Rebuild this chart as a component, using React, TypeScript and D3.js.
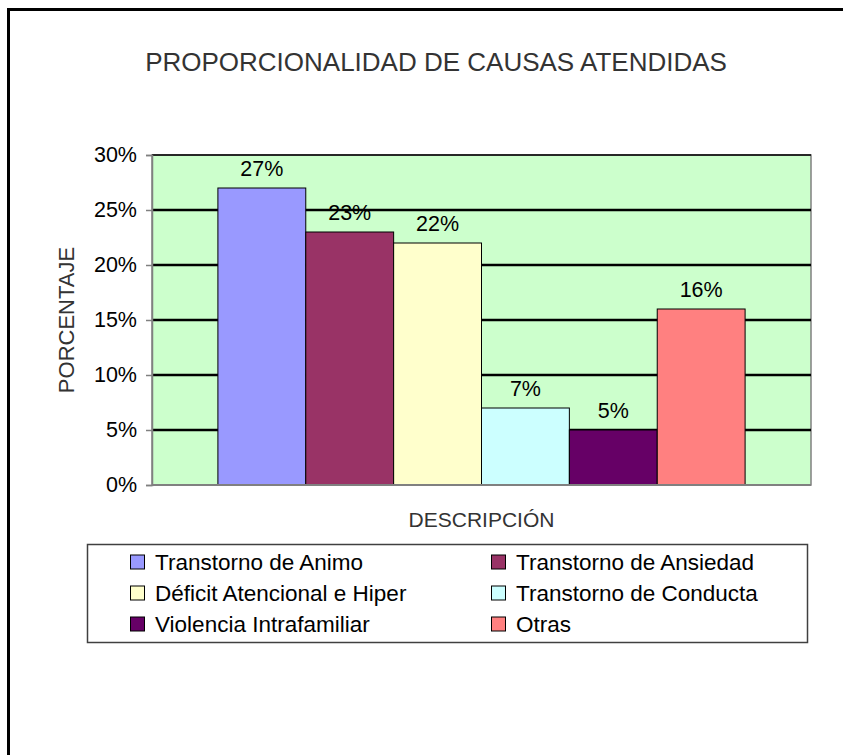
import React, { useEffect, useRef } from 'react'
import * as d3 from 'd3'

const series = [
  'Transtorno de Animo',
  'Transtorno de Ansiedad',
  'Déficit Atencional e Hiper',
  'Transtorno de Conducta',
  'Violencia Intrafamiliar',
  'Otras',
]
const values = [0.27, 0.23, 0.22, 0.07, 0.05, 0.16]
const colors = ['#9999FF', '#993366', '#FFFFCC', '#CCFFFF', '#660066', '#FF8080']
const yTicks = [0, 0.05, 0.1, 0.15, 0.2, 0.25, 0.3]

const title = 'PROPORCIONALIDAD DE CAUSAS ATENDIDAS'
const xTitle = 'DESCRIPCIÓN'
const yTitle = 'PORCENTAJE'

function App() {
  const ref = useRef<SVGSVGElement>(null)

  useEffect(() => {
    document.body.style.margin = '0'
    const svg = d3.select(ref.current)
    svg.selectAll('*').remove()

    const left = 152, right = 811, top = 155, bottom = 485
    const font = 'Liberation Sans, Arial, sans-serif'

    // outer frame (runs off the page at right / bottom)
    svg.append('rect')
      .attr('x', 8.5).attr('y', 9.5)
      .attr('width', 900).attr('height', 800)
      .attr('fill', '#fff')
      .attr('stroke', '#000')
      .attr('stroke-width', 3)

    svg.append('text')
      .attr('x', 436).attr('y', 71)
      .attr('text-anchor', 'middle')
      .style('font-family', font)
      .style('font-size', '26px')
      .attr('fill', '#333')
      .text(title)

    const y = d3.scaleLinear().domain([0, 0.3]).range([bottom, top])

    // gap width 150% of a bar on the whole category
    const bw = (right - left) / (series.length + 1.5)
    const x = d3.scaleBand()
      .domain(series)
      .range([left + bw * 0.75, right - bw * 0.75])
      .padding(0)

    svg.append('rect')
      .attr('x', left).attr('y', top)
      .attr('width', right - left).attr('height', bottom - top)
      .attr('fill', '#CCFFCC')
      .attr('stroke', '#808080')
      .attr('stroke-width', 1.5)

    svg.append('g')
      .selectAll('line')
      .data(yTicks.slice(1))
      .enter()
      .append('line')
      .attr('x1', left).attr('x2', right)
      .attr('y1', d => y(d)).attr('y2', d => y(d))
      .attr('stroke', '#000')
      .attr('stroke-width', d => (d === 0.3 ? 1.5 : 2.5))

    const axisL = d3.axisLeft(y)
      .tickValues(yTicks)
      .tickSize(6)
      .tickPadding(9)
      .tickFormat(d3.format('.0%'))

    const ga = svg.append('g')
      .attr('transform', 'translate(' + left + ',0)')
      .call(axisL)
    ga.select('.domain').attr('stroke', '#808080').attr('stroke-width', 1.5)
    ga.selectAll('.tick line').attr('stroke', '#808080').attr('stroke-width', 1.5)
    ga.selectAll('.tick text')
      .style('font-family', font)
      .style('font-size', '21.5px')
      .attr('fill', '#000')

    svg.append('g')
      .selectAll('rect')
      .data(values)
      .enter()
      .append('rect')
      .attr('x', (d, i) => x(series[i]) as number)
      .attr('y', d => y(d))
      .attr('width', x.bandwidth())
      .attr('height', d => bottom - y(d))
      .attr('fill', (d, i) => colors[i])
      .attr('stroke', '#000')
      .attr('stroke-width', 1)

    svg.append('g')
      .selectAll('text')
      .data(values)
      .enter()
      .append('text')
      .attr('x', (d, i) => (x(series[i]) as number) + x.bandwidth() / 2)
      .attr('y', d => y(d) - 12)
      .attr('text-anchor', 'middle')
      .style('font-family', font)
      .style('font-size', '21.5px')
      .text(d => d3.format('.0%')(d))

    svg.append('line')
      .attr('x1', left).attr('x2', right)
      .attr('y1', bottom).attr('y2', bottom)
      .attr('stroke', '#808080').attr('stroke-width', 2)

    svg.append('text')
      .attr('x', (left + right) / 2).attr('y', 527)
      .attr('text-anchor', 'middle')
      .style('font-family', font)
      .style('font-size', '21px')
      .attr('fill', '#333')
      .text(xTitle)

    svg.append('text')
      .attr('transform', 'translate(74,' + (top + bottom) / 2 + ') rotate(-90)')
      .attr('text-anchor', 'middle')
      .style('font-family', font)
      .style('font-size', '22px')
      .attr('fill', '#333')
      .text(yTitle)

    // legend
    const lg = svg.append('g')
    lg.append('rect')
      .attr('x', 87.5).attr('y', 544.5)
      .attr('width', 720).attr('height', 98)
      .attr('fill', '#fff')
      .attr('stroke', '#404040')
      .attr('stroke-width', 1.5)

    const colX = [130, 491]
    const rowY = [562, 593, 624]
    const items = lg.selectAll('g.item')
      .data(series)
      .enter()
      .append('g')
      .attr('class', 'item')
      .attr('transform', (d, i) => 'translate(' + colX[i % 2] + ',' + rowY[Math.floor(i / 2)] + ')')
    items.append('rect')
      .attr('x', 0.5).attr('y', -7)
      .attr('width', 14).attr('height', 14)
      .attr('fill', (d, i) => colors[i])
      .attr('stroke', '#000')
      .attr('stroke-width', 1)
    items.append('text')
      .attr('x', 25).attr('y', 8)
      .style('font-family', font)
      .style('font-size', '22.5px')
      .text(d => d)
  }, [])

  return (
    <div>
      <svg ref={ref} width={843} height={755} style={{ display: 'block' }}></svg>
    </div>
  )
}

export default App
